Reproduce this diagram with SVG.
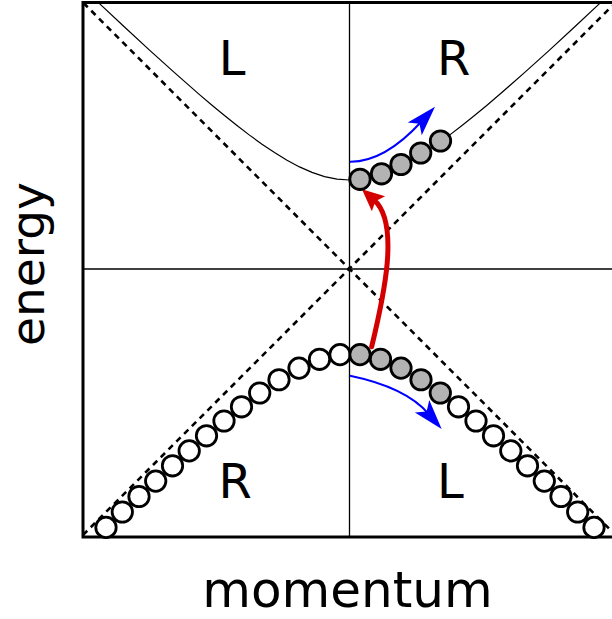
<svg xmlns="http://www.w3.org/2000/svg" width="612" height="619" viewBox="0 0 612 619">
<style>
.frame{fill:none;stroke:#000;stroke-width:3}
.axis{fill:none;stroke:#000;stroke-width:1.3}
.asym{fill:none;stroke:#000;stroke-width:2.6;stroke-dasharray:6 5}
.band{fill:none;stroke:#000;stroke-width:1.2}
.e{fill:#fff;stroke:#000;stroke-width:2.8}
.f{fill:#b3b3b3;stroke:#000;stroke-width:2.8}
.lbl{font-family:"DejaVu Sans",sans-serif;font-size:48px;fill:#000;text-anchor:middle}
.ax{font-family:"DejaVu Sans",sans-serif;font-size:50px;fill:#000;text-anchor:middle}
.blue{fill:none;stroke:#0000ff;stroke-width:2}
.red{fill:none;stroke:#d40000;stroke-width:5;stroke-linecap:round}
</style>
<defs>
<marker id="hb" markerUnits="userSpaceOnUse" refX="10" refY="0" orient="auto" overflow="visible" markerWidth="1" markerHeight="1">
<path d="M0,-9.5 L30,0 L0,9.5 L7,0 Z" fill="#0000ff"/>
</marker>
<marker id="hr" markerUnits="userSpaceOnUse" refX="6" refY="0" orient="auto" overflow="visible" markerWidth="1" markerHeight="1">
<path d="M0,-10 L22,0 L0,10 L4,0 Z" fill="#d40000"/>
</marker>
</defs>
<rect width="612" height="619" fill="#fff"/>
<g id="axes">
<line class="axis" x1="349.5" y1="3" x2="349.5" y2="537"/>
<line class="axis" x1="83" y1="269" x2="612" y2="269"/>
<line class="asym" x1="83.5" y1="3" x2="612" y2="531.5"/>
<line class="asym" x1="83" y1="535" x2="612" y2="6"/>
<rect class="frame" x="83" y="2.5" width="560" height="534.5"/>
</g>
<g id="upper-band">
<polyline class="band" points="99.5,3.63 124.5,27.04 149.5,50.09 174.5,72.67 199.5,94.58 212,105.21 224.5,115.55 237,125.55 249.5,135.13 262,144.19 274.5,152.61 287,160.25 299.5,166.92 312,172.42 324.5,176.56 337,179.13 349.5,180 362,179.13 374.5,176.56 387,172.42 399.5,166.92 412,160.25 424.5,152.61 437,144.19 449.5,135.13 462,125.55 474.5,115.55 487,105.21 499.5,94.58 524.5,72.67 549.5,50.09 574.5,27.04 599.5,3.63"/>
</g>
<g id="connectors">
<path class="blue" d="M350,161.7 Q384.4,162.1 421.5,121.5" marker-end="url(#hb)"/>
<path class="blue" d="M350,375.7 Q405.7,387.2 428.6,413.8" marker-end="url(#hb)"/>
<path class="red" d="M371.7,346.7 C383.7,296.7 400.2,223 373.95,199.9" marker-end="url(#hr)"/>
</g>
<g id="upper-particles">
<circle class="f" cx="360" cy="179.3" r="10.2"/>
<circle class="f" cx="381.5" cy="173.8" r="10.2"/>
<circle class="f" cx="401" cy="164.5" r="10.2"/>
<circle class="f" cx="420.7" cy="153" r="10.2"/>
<circle class="f" cx="440.5" cy="141" r="10.2"/>
</g>
<g id="lower-particles">
<circle class="e" cx="340" cy="354.6" r="10.2"/>
<circle class="e" cx="319.5" cy="359.3" r="10.2"/>
<circle class="e" cx="299" cy="368.1" r="10.2"/>
<circle class="e" cx="279" cy="379.75" r="10.2"/>
<circle class="e" cx="259.7" cy="393" r="10.2"/>
<circle class="e" cx="241.5" cy="406.8" r="10.2"/>
<circle class="e" cx="224" cy="421" r="10.2"/>
<circle class="e" cx="206.5" cy="435.8" r="10.2"/>
<circle class="e" cx="189.2" cy="450.9" r="10.2"/>
<circle class="e" cx="172.5" cy="465.8" r="10.2"/>
<circle class="e" cx="155.7" cy="481.1" r="10.2"/>
<circle class="e" cx="139" cy="496.5" r="10.2"/>
<circle class="e" cx="122.3" cy="512" r="10.2"/>
<circle class="e" cx="106" cy="527.4" r="10.2"/>
<circle class="f" cx="360" cy="354.6" r="10.2"/>
<circle class="f" cx="380.5" cy="359.3" r="10.2"/>
<circle class="f" cx="401" cy="368.1" r="10.2"/>
<circle class="f" cx="421" cy="379.75" r="10.2"/>
<circle class="f" cx="440.3" cy="393" r="10.2"/>
<circle class="e" cx="458.5" cy="406.8" r="10.2"/>
<circle class="e" cx="476" cy="421" r="10.2"/>
<circle class="e" cx="493.5" cy="435.8" r="10.2"/>
<circle class="e" cx="510.8" cy="450.9" r="10.2"/>
<circle class="e" cx="527.5" cy="465.8" r="10.2"/>
<circle class="e" cx="544.3" cy="481.1" r="10.2"/>
<circle class="e" cx="561" cy="496.5" r="10.2"/>
<circle class="e" cx="577.7" cy="512" r="10.2"/>
<circle class="e" cx="594" cy="527.4" r="10.2"/>
</g>
<g id="labels">
<text class="lbl" x="232" y="75">L</text>
<text class="lbl" x="453.7" y="75">R</text>
<text class="lbl" x="235.3" y="498.3">R</text>
<text class="lbl" x="450.4" y="498.3">L</text>
<text class="ax" x="347.5" y="606.7">momentum</text>
<text class="ax" style="font-size:47px" transform="translate(44,264) rotate(-90)">energy</text>
</g>
</svg>
